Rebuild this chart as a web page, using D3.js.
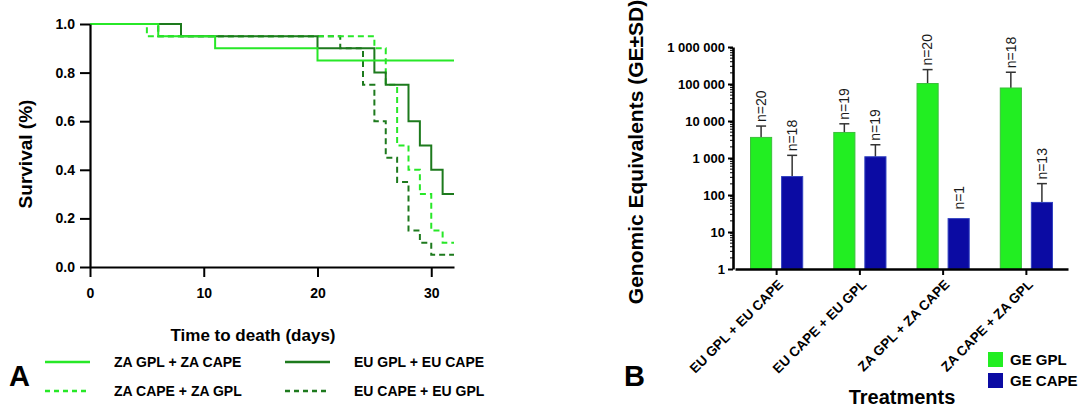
<!DOCTYPE html>
<html lang="en">
<head>
<meta charset="utf-8">
<title>Survival and genomic equivalents</title>
<script src="https://d3js.org/d3.v7.min.js"></script>
<style>
  body { margin: 0; background: #fff; }
  svg { display: block; font-family: "Liberation Sans", Arial, sans-serif; }
</style>
</head>
<body>
<div id="chart"></div>
<script>
// ---- Panel A: survival curves, [day, survival] step points
var zaGplZaCape = [[0,1],[6,0.95],[11,0.9],[20,0.85],[32,0.85]];
var zaCapeZaGpl = [[0,1],[5,0.95],[25,0.9],[26,0.75],[27,0.5],[28,0.4],[29,0.3],[30,0.15],[31,0.1],[32,0.1]];
var euGplEuCape = [[0,1],[8,0.95],[20,0.9],[25,0.8],[26,0.75],[28,0.6],[29,0.5],[30,0.4],[31,0.3],[32,0.3]];
var euCapeEuGpl = [[0,1],[6,0.95],[22,0.9],[24,0.75],[25,0.6],[26,0.45],[27,0.35],[28,0.15],[29,0.1],[30,0.05],[32,0.05]];
var survTicksX = [0, 10, 20, 30];
var survTicksY = [0, 0.2, 0.4, 0.6, 0.8, 1.0];

// ---- Panel B: genomic equivalents
var treatments = ["EU GPL + EU CAPE", "EU CAPE + EU GPL", "ZA GPL + ZA CAPE", "ZA CAPE + ZA GPL"];
var geGpl = [3600, 4900, 103000, 78000];
var geGplSd = [7300, 8400, 245000, 208000];
var geGplN = [20, 19, 20, 18];
var geCape = [315, 1080, 23, 63];
var geCapeSd = [1180, 2280, null, 203];
var geCapeN = [18, 19, 1, 13];
var geTicks = [1, 10, 100, 1000, 10000, 100000, 1000000];

var light = "#27e827", dark = "#1d7a1d";
var barGreen = "#22ee22", barBlue = "#0b0ba3";

var svg = d3.select("#chart").append("svg")
  .attr("width", 1085)
  .attr("height", 409);

// ================= Panel A =================
var x = d3.scaleLinear().domain([0, 32]).range([90, 454]);
var y = d3.scaleLinear().domain([0, 1]).range([267, 24]);

var gA = svg.append("g");

var series = [
  {data: euCapeEuGpl, color: dark, dash: "6,4"},
  {data: zaCapeZaGpl, color: light, dash: "6,4"},
  {data: euGplEuCape, color: dark, dash: null},
  {data: zaGplZaCape, color: light, dash: null}
];

var line = d3.line()
  .x(function(d){ return x(d[0]); })
  .y(function(d){ return y(d[1]); })
  .curve(d3.curveStepAfter);

gA.selectAll("path.curve")
  .data(series)
  .enter().append("path")
  .attr("class", "curve")
  .attr("d", function(d){ return line(d.data); })
  .attr("fill", "none")
  .attr("stroke", function(d){ return d.color; })
  .attr("stroke-width", 2)
  .attr("stroke-dasharray", function(d){ return d.dash; });

var xAxisA = gA.append("g")
  .attr("transform", "translate(0," + y(0) + ")")
  .call(d3.axisBottom(x).tickValues(survTicksX).tickSize(10).tickPadding(11).tickSizeOuter(0));
var yAxisA = gA.append("g")
  .attr("transform", "translate(" + x(0) + ",0)")
  .call(d3.axisLeft(y).tickValues(survTicksY).tickFormat(d3.format(".1f")).tickSize(10).tickPadding(5).tickSizeOuter(0));

[xAxisA, yAxisA].forEach(function(a){
  a.select(".domain").attr("stroke", "#000").attr("stroke-width", 2.2);
  a.selectAll(".tick line").attr("stroke", "#000").attr("stroke-width", 2);
  a.selectAll("text").attr("fill", "#000").style("font-size", "14px").style("font-weight", "bold");
});

gA.append("text")
  .attr("transform", "translate(32,154) rotate(-90)")
  .attr("text-anchor", "middle")
  .style("font-size", "19px").style("font-weight", "bold")
  .text("Survival (%)");

gA.append("text")
  .attr("x", 253).attr("y", 341)
  .attr("text-anchor", "middle")
  .style("font-size", "17px").style("font-weight", "bold")
  .text("Time to death (days)");

var legendA = [
  {label: "ZA GPL + ZA CAPE", color: light, dash: null, lx: 45, ly: 362},
  {label: "ZA CAPE + ZA GPL", color: light, dash: "5,4", lx: 45, ly: 391},
  {label: "EU GPL + EU CAPE", color: dark, dash: null, lx: 285, ly: 362},
  {label: "EU CAPE + EU GPL", color: dark, dash: "5,4", lx: 285, ly: 391}
];
var lg = gA.selectAll("g.leg").data(legendA).enter().append("g")
  .attr("transform", function(d){ return "translate(" + d.lx + "," + d.ly + ")"; });
lg.append("line")
  .attr("x1", 0).attr("x2", 45).attr("y1", 0).attr("y2", 0)
  .attr("stroke", function(d){ return d.color; })
  .attr("stroke-width", 2.5)
  .attr("stroke-dasharray", function(d){ return d.dash; });
lg.append("text")
  .attr("x", 69).attr("dy", "0.35em")
  .style("font-size", "14px").style("font-weight", "bold")
  .text(function(d){ return d.label; });

gA.append("text")
  .attr("x", 9).attr("y", 386)
  .style("font-size", "29px").style("font-weight", "bold")
  .text("A");

// ================= Panel B =================
var gB = svg.append("g");
var yB = d3.scaleLog().domain([1, 1000000]).range([269, 47]);
var xB = d3.scaleBand().domain(treatments).range([735, 1068]);
var xSub = d3.scaleBand().domain(["gpl", "cape"]).range([0, xB.bandwidth()])
  .paddingInner(0.32).paddingOuter(0.5);

var barRows = treatments.map(function(t, i){
  return [
    {t: t, key: "gpl", v: geGpl[i], sd: geGplSd[i], n: geGplN[i]},
    {t: t, key: "cape", v: geCape[i], sd: geCapeSd[i], n: geCapeN[i]}
  ];
});
var bars = [].concat.apply([], barRows);

var groups = gB.selectAll("g.bar").data(bars).enter().append("g")
  .attr("transform", function(d){ return "translate(" + (xB(d.t) + xSub(d.key)) + ",0)"; });

var bw = xSub.bandwidth();

// error bars first (drawn behind bars)
groups.filter(function(d){ return d.sd; }).each(function(d){
  var g = d3.select(this);
  g.append("line")
    .attr("x1", bw / 2).attr("x2", bw / 2)
    .attr("y1", yB(d.v)).attr("y2", yB(d.sd))
    .attr("stroke", "#333").attr("stroke-width", 1.5);
  g.append("line")
    .attr("x1", bw / 2 - 5).attr("x2", bw / 2 + 5)
    .attr("y1", yB(d.sd)).attr("y2", yB(d.sd))
    .attr("stroke", "#333").attr("stroke-width", 1.5);
});

groups.append("rect")
  .attr("x", 0)
  .attr("y", function(d){ return yB(d.v); })
  .attr("width", bw)
  .attr("height", function(d){ return yB(1) - yB(d.v); })
  .attr("fill", function(d){ return d.key === "gpl" ? barGreen : barBlue; })
  .attr("stroke", function(d){ return d.key === "gpl" ? "#3bbf3b" : "#3040c0"; })
  .attr("stroke-width", 1);

groups.append("text")
  .attr("transform", function(d){
    var top = d.sd ? yB(d.sd) - 4 : yB(d.v) - 9;
    return "translate(" + (bw / 2) + "," + top + ") rotate(-90)";
  })
  .attr("dy", "0.35em")
  .attr("text-anchor", "start")
  .style("font-size", "14px")
  .attr("fill", "#1a1a1a")
  .text(function(d){ return "n=" + d.n; });

// minor ticks on the log axis
var minor = [];
for (var e = 0; e < 6; e++) {
  for (var m = 2; m <= 9; m++) minor.push(m * Math.pow(10, e));
}
gB.selectAll("line.minor").data(minor).enter().append("line")
  .attr("x1", 730).attr("x2", 733)
  .attr("y1", function(d){ return yB(d); }).attr("y2", function(d){ return yB(d); })
  .attr("stroke", "#000").attr("stroke-width", 1);

var fmtSpace = function(d){ return d3.format(",")(d).replace(/,/g, " "); };
var yAxisB = gB.append("g")
  .attr("transform", "translate(733,0)")
  .call(d3.axisLeft(yB).tickValues(geTicks).tickFormat(fmtSpace).tickSize(5).tickPadding(3).tickSizeOuter(0));
var xAxisB = gB.append("g")
  .attr("transform", "translate(0," + yB(1) + ")")
  .call(d3.axisBottom(xB).tickSize(6).tickSizeOuter(0).tickFormat(""));

[xAxisB, yAxisB].forEach(function(a){
  a.select(".domain").attr("stroke", "#000").attr("stroke-width", 2.6);
  a.selectAll(".tick line").attr("stroke", "#000").attr("stroke-width", 2);
});
yAxisB.selectAll("text").attr("fill", "#000").style("font-size", "13px").style("font-weight", "bold");

gB.selectAll("text.cat").data(treatments).enter().append("text")
  .attr("class", "cat")
  .attr("transform", function(d){
    return "translate(" + (xB(d) + xB.bandwidth() / 2 + 4) + "," + 282 + ") rotate(-45)";
  })
  .attr("text-anchor", "end")
  .attr("dy", "0.35em")
  .style("font-size", "13.5px").style("font-weight", "bold")
  .text(function(d){ return d; });

gB.append("text")
  .attr("transform", "translate(643,152) rotate(-90)")
  .attr("text-anchor", "middle")
  .style("font-size", "21px").style("font-weight", "bold")
  .text("Genomic Equivalents (GE\u00B1SD)");

gB.append("text")
  .attr("x", 902).attr("y", 404)
  .attr("text-anchor", "middle")
  .style("font-size", "20px").style("font-weight", "bold")
  .text("Treatments");

gB.append("text")
  .attr("x", 624).attr("y", 386)
  .style("font-size", "29px").style("font-weight", "bold")
  .text("B");

var legendB = [
  {label: "GE GPL", color: barGreen, ly: 352},
  {label: "GE CAPE", color: barBlue, ly: 373}
];
var lgB = gB.selectAll("g.legb").data(legendB).enter().append("g")
  .attr("transform", function(d){ return "translate(988," + d.ly + ")"; });
lgB.append("rect").attr("width", 15).attr("height", 15).attr("fill", function(d){ return d.color; });
lgB.append("text")
  .attr("x", 22).attr("y", 7.5).attr("dy", "0.35em")
  .style("font-size", "15px").style("font-weight", "bold")
  .text(function(d){ return d.label; });
</script>
</body>
</html>
